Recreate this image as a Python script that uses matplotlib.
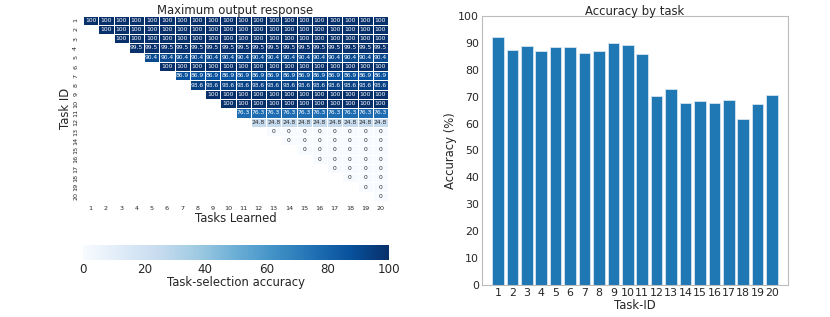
import numpy as np
import matplotlib
matplotlib.use("Agg")
import matplotlib.pyplot as plt
import seaborn as sns

# task-selection accuracy per task (same value for every later stage)
task_ids = list(range(1, 21))
selection_acc = [100, 100, 100, 99.5, 90.4, 100, 86.9, 93.6, 100, 100,
                 76.3, 24.8, 0, 0, 0, 0, 0, 0, 0, 0]

# final accuracy of each task
task_acc = [92.1, 87.4, 88.7, 86.9, 88.6, 88.6, 86.4, 86.9, 90.1, 89.3,
            85.8, 70.4, 72.7, 67.7, 68.3, 67.8, 68.8, 61.8, 67.2, 70.7]

sns.set_style("white")
plt.rcParams['font.family'] = ['DejaVu Sans']
txt = '#262626'
fs = 8.4

n = len(task_ids)
mat = np.zeros((n, n))
for i in range(n):
    for j in range(n):
        mat[i, j] = selection_acc[i]
mask = np.tril(np.ones((n, n), dtype=bool), k=-1)

fig = plt.figure(figsize=(8.3, 3.17), dpi=100)
ax1 = fig.add_axes([83 / 830, 1 - 201 / 317, 305 / 830, 185.5 / 317])
cax = fig.add_axes([83 / 830, 1 - 260 / 317, 306 / 830, 15 / 317])

sns.heatmap(mat, mask=mask, cmap='Blues', vmin=0, vmax=100, annot=True, fmt='.3g',
            annot_kws={'fontsize': 4.3}, linewidths=0.5, linecolor='white',
            ax=ax1, cbar_ax=cax, cbar_kws={'orientation': 'horizontal'},
            xticklabels=task_ids, yticklabels=task_ids)
ax1.tick_params(axis='both', length=0, labelsize=4.6, colors=txt)
ax1.set_yticklabels(task_ids, rotation=90, va='center')
ax1.set_xticklabels(task_ids, rotation=0)
ax1.set_title('Maximum output response', fontsize=fs, color=txt, pad=1)
ax1.set_xlabel('Tasks Learned', fontsize=fs, color=txt, labelpad=1)
ax1.set_ylabel('Task ID', fontsize=fs, color=txt, labelpad=1)

cax.tick_params(length=0, labelsize=8.6, colors=txt, pad=2)
cax.set_xticks([0, 20, 40, 60, 80, 100])
cax.set_xlabel('Task-selection accuracy', fontsize=fs, color=txt, labelpad=0)
cax.xaxis.set_label_position('bottom')
cax.xaxis.set_ticks_position('bottom')
for s in cax.spines.values():
    s.set_visible(False)

ax2 = fig.add_axes([482 / 830, 1 - 285 / 317, 306 / 830, 269 / 317])
ax2.bar(task_ids, task_acc, width=0.8, color='#1f77b4', edgecolor='#d6e4f0', linewidth=0.6)
ax2.set_ylim(0, 100)
ax2.set_xlim(-0.1, 21.1)
ax2.set_xticks(task_ids)
ax2.set_yticks(range(0, 101, 10))
ax2.tick_params(length=0, labelsize=7.9, colors=txt, pad=2)
ax2.set_title('Accuracy by task', fontsize=fs, color=txt, pad=1)
ax2.set_xlabel('Task-ID', fontsize=fs, color=txt, labelpad=1)
ax2.set_ylabel('Accuracy (%)', fontsize=fs, color=txt, labelpad=1)
for s in ax2.spines.values():
    s.set_color('#bcbcbc')
    s.set_linewidth(0.8)

fig.savefig('out.png', dpi=100)
